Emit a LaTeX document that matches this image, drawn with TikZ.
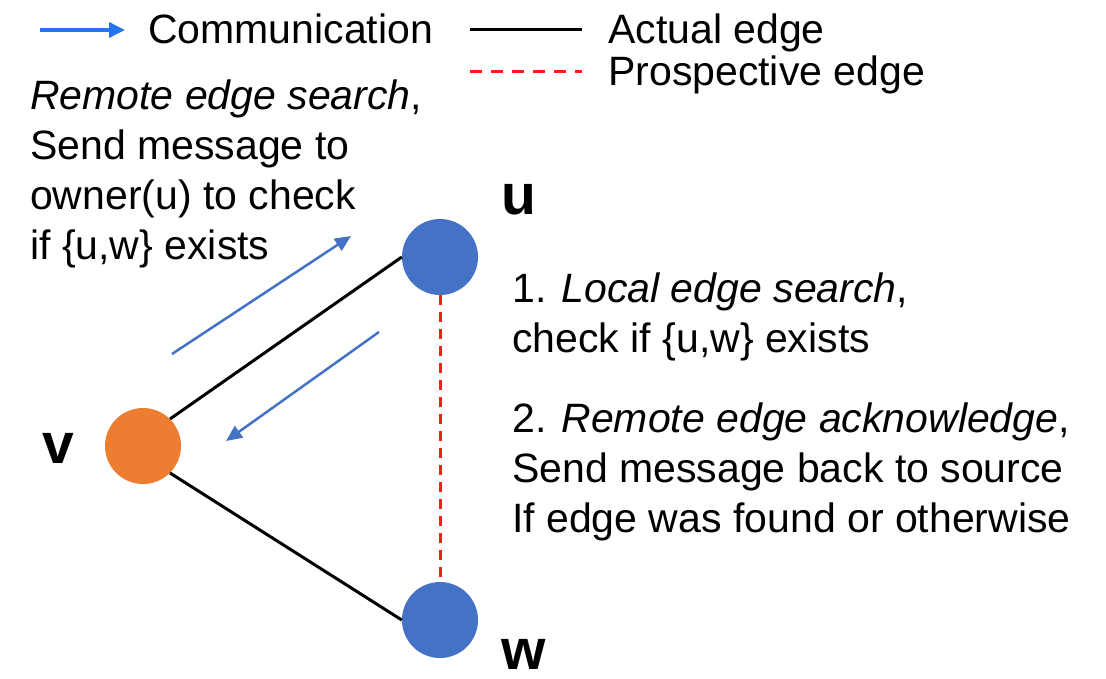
\documentclass[tikz,border=0pt]{standalone}
\usepackage{fontspec}
\setmainfont{Liberation Sans}
\usetikzlibrary{arrows.meta}
\definecolor{nodeblue}{HTML}{4472C4}
\definecolor{nodeorange}{HTML}{ED7D31}
\definecolor{legblue}{HTML}{2474EE}
\definecolor{dashred}{HTML}{FF1A1A}
\begin{document}
\begin{tikzpicture}[x=1pt,y=-1pt,
  vert/.style={circle,minimum size=76pt,inner sep=0pt},
  lbl/.style={font=\fontsize{57}{60}\selectfont\bfseries,inner sep=0pt,anchor=base},
  txt/.style={font=\fontsize{41}{50}\selectfont,inner sep=0pt,align=left,anchor=north west},
  legtxt/.style={font=\fontsize{41}{50}\selectfont,inner sep=0pt,anchor=base west},
  actual/.style={draw=black,line width=3pt},
  prosp/.style={draw=dashred,line width=3pt,dash pattern=on 10pt off 7pt},
  comm/.style={draw=nodeblue,line width=2.5pt,-{Triangle[length=16pt,width=14pt]}},
]
\useasboundingbox (0,0) rectangle (1106,679);

% legend
\coordinate (lc1) at (40,30);
\coordinate (lc2) at (125,30);
\draw[legblue,line width=3.5pt,-{Triangle[length=16pt,width=15pt]}] (lc1) -- (lc2);
\node[legtxt] (lcomm) at (148,44) {Communication};
\coordinate (la1) at (470,30);
\coordinate (la2) at (582,30);
\draw[actual] (la1) -- (la2);
\node[legtxt] (lact) at (608,44) {Actual edge};
\coordinate (lp1) at (470,72);
\coordinate (lp2) at (582,72);
\draw[prosp,dash pattern=on 12pt off 9pt] (lp1) -- (lp2);
\node[legtxt] (lpro) at (608,86) {Prospective edge};

% vertices
\node[vert,fill=nodeblue] (u) at (440,257) {};
\node[vert,fill=nodeorange] (v) at (143,446) {};
\node[vert,fill=nodeblue] (w) at (440,620) {};
\node[lbl] (ul) at (519,215) {u};
\node[lbl] (vl) at (58,463) {v};
\node[lbl] (wl) at (524,669) {w};

% edges
\draw[actual] (v.north east) -- (u.west);
\draw[actual] (v.south east) -- (w.west);
\draw[prosp] (u.south) -- (w.north);

% communication arrows
\coordinate (a1s) at (172,354);
\coordinate (a1e) at (351,236);
\coordinate (a2s) at (379,332);
\coordinate (a2e) at (226,441);
\draw[comm] (a1s) -- (a1e);
\draw[comm] (a2s) -- (a2e);

% texts
\node[txt] (tleft) at (30,79.6) {\textit{Remote edge search},\\Send message to\\owner(u) to check\\if \{u,w\} exists};
\node[txt] (tr1) at (512,272.6) {1. \textit{Local edge search},\\check if \{u,w\} exists};
\node[txt] (tr2) at (512,402.6) {2. \textit{Remote edge acknowledge},\\Send message back to source\\If edge was found or otherwise};
\end{tikzpicture}
\end{document}
